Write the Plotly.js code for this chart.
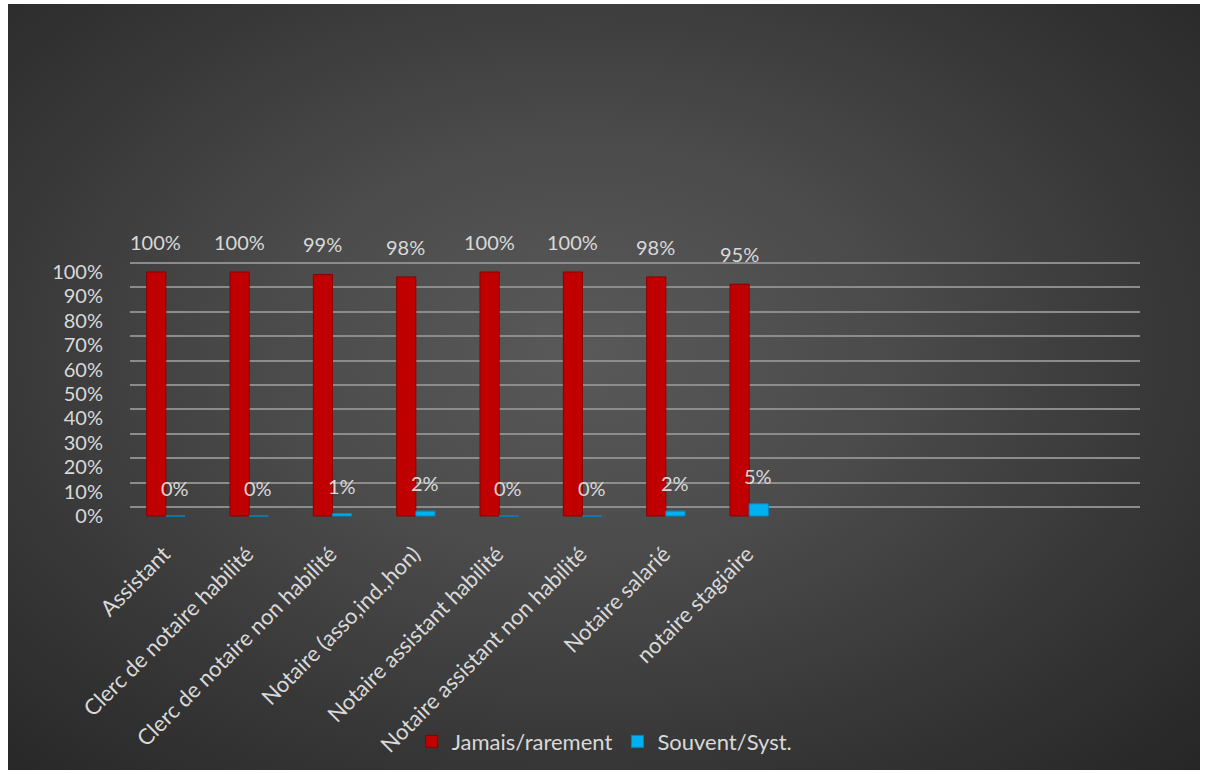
<!DOCTYPE html>
<html>
<head>
<meta charset="utf-8">
<script src="https://cdn.plot.ly/plotly-3.0.1.min.js"></script>
<style>
  html, body { margin: 0; padding: 0; background: #ffffff; }
  #bg { position: absolute; left: 8px; top: 4px; width: 1192px; height: 766px;
        background: radial-gradient(ellipse at 48% 45%, #595959 0%, #4b4b4b 35%, #363636 70%, #262626 100%); }
  #chart { position: absolute; left: 0; top: 0; width: 1205px; height: 774px; }
</style>
</head>
<body>
<div id="bg"></div>
<div id="chart"></div>
<script>
const categories = [
  "Assistant",
  "Clerc de notaire habilité",
  "Clerc de notaire non habilité",
  "Notaire (asso,ind.,hon)",
  "Notaire assistant habilité",
  "Notaire assistant non habilité",
  "Notaire salarié",
  "notaire stagiaire"
];
const jamaisRarement = [1.00, 1.00, 0.99, 0.98, 1.00, 1.00, 0.98, 0.95];
const souventSyst    = [0.00, 0.00, 0.01, 0.02, 0.00, 0.00, 0.02, 0.05];
const seriesNames = ["Jamais/rarement", "Souvent/Syst."];
const yTickVals = [0, 0.1, 0.2, 0.3, 0.4, 0.5, 0.6, 0.7, 0.8, 0.9, 1.0];

const FONT = "Lato, 'Open Sans', sans-serif";
const TXT = "#d9d9d9";
const RED = "#c00000";
const BLUE = "#00b0f0";

const traces = [
  { type: "bar", name: seriesNames[0], x: categories, y: jamaisRarement,
    marker: { color: RED, line: { color: "#8b0000", width: 1 } }, hoverinfo: "y" },
  { type: "bar", name: seriesNames[1], x: categories, y: souventSyst,
    marker: { color: BLUE, line: { color: "#0088c0", width: 1 } }, hoverinfo: "y" },
  // invisible helper trace carrying the back-wall gridlines axis
  { type: "scatter", mode: "markers", x: categories, y: jamaisRarement, xaxis: "x", yaxis: "y2",
    marker: { opacity: 0 }, showlegend: false, hoverinfo: "skip" }
];

const annotations = [];
const fmt = v => Math.round(v * 100) + "%";
categories.forEach((c, i) => {
  annotations.push({ x: c, y: jamaisRarement[i], xref: "x", yref: "y", text: fmt(jamaisRarement[i]),
    showarrow: false, xanchor: "center", yanchor: "bottom", xshift: -10, yshift: 16,
    font: { family: FONT, size: 20, color: TXT } });
  annotations.push({ x: c, y: souventSyst[i], xref: "x", yref: "y", text: fmt(souventSyst[i]),
    showarrow: false, xanchor: "center", yanchor: "bottom", xshift: 9, yshift: 14,
    font: { family: FONT, size: 20, color: TXT } });
});

const layout = {
  width: 1205, height: 774,
  paper_bgcolor: "rgba(0,0,0,0)",
  plot_bgcolor: "rgba(0,0,0,0)",
  margin: { l: 130, r: 65, t: 258, b: 256 },
  barmode: "group",
  bargap: 0.54,
  bargroupgap: 0,
  font: { family: FONT, size: 20, color: TXT },
  showlegend: true,
  legend: { orientation: "h", x: 0.47, xanchor: "center", y: -0.86, yanchor: "middle",
            font: { family: FONT, size: 22, color: TXT }, itemwidth: 30, itemclick: false,
            bgcolor: "rgba(0,0,0,0)" },
  xaxis: {
    type: "category",
    categoryorder: "array", categoryarray: categories,
    range: [-0.43, 11.69],
    showgrid: false, zeroline: false, showline: false,
    ticks: "", tickangle: -45,
    ticklabelshift: -2, ticklabelstandoff: 18,
    tickfont: { family: FONT, size: 22, color: TXT },
    fixedrange: true
  },
  yaxis: {
    range: [-0.0082, 1.0574],
    tickvals: yTickVals,
    tickformat: ".0%",
    showgrid: false, zeroline: false, showline: false,
    ticks: "outside", ticklen: 22, tickcolor: "rgba(0,0,0,0)",
    tickfont: { family: FONT, size: 20, color: TXT },
    fixedrange: true
  },
  yaxis2: {
    overlaying: "y", anchor: "x", side: "left",
    range: [-0.045, 1.0205],
    tickvals: yTickVals,
    showticklabels: false, ticks: "",
    showgrid: true, gridcolor: "#8c8c8c", gridwidth: 2,
    zeroline: false, showline: false,
    fixedrange: true
  },
  annotations: annotations
};

Plotly.newPlot("chart", traces, layout, { displayModeBar: false, staticPlot: true });
</script>
</body>
</html>
